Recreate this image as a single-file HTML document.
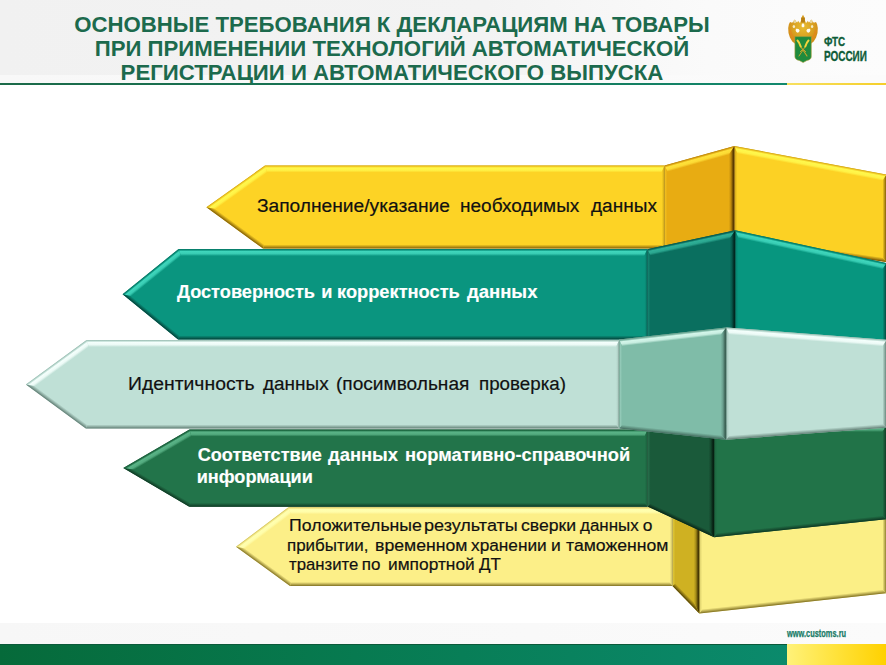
<!DOCTYPE html>
<html><head><meta charset="utf-8">
<style>
*{margin:0;padding:0;box-sizing:border-box}
html,body{width:886px;height:665px;overflow:hidden;background:#fff;font-family:"Liberation Sans",sans-serif}
#stage{position:relative;width:886px;height:665px;overflow:hidden;background:#fff}
#hdr{position:absolute;left:0;top:0;width:886px;height:83.5px;background:linear-gradient(90deg,#f1f1f1 0%,#f3f3f3 55%,#fafafa 80%,#fcfcfc 100%)}
#hdr2{position:absolute;left:0;top:74.5px;width:886px;height:8.5px;background:linear-gradient(90deg,#f8f8f8,#fbfbfb)}
#hline{position:absolute;left:0;top:83px;width:787px;height:2.4px;background:linear-gradient(90deg,#1b6a49 0%,#157a5c 70%,#12896e 100%)}
#hline2{position:absolute;left:787px;top:83px;width:99px;height:2.4px;background:linear-gradient(90deg,#f7e060,#f5cf2a)}
.title{position:absolute;left:0;width:784px;text-align:center;color:#1c6a4d;font-weight:bold;font-size:22.2px;line-height:24px;white-space:nowrap}
svg{position:absolute;left:0;top:0}
.w{position:absolute;white-space:nowrap;line-height:22px;transform-origin:0 50%}
#foot{position:absolute;left:0;top:644px;width:787px;height:21px;background:linear-gradient(90deg,#066a3a 0%,#077a50 45%,#0b8a6c 100%);border-top:1px solid #0b5a3a}
#foot2{position:absolute;left:787px;top:644px;width:99px;height:21px;background:linear-gradient(90deg,#fff27a 0%,#ffe23a 50%,#ffd100 100%)}
#gband{position:absolute;left:0;top:622.5px;width:886px;height:21.5px;background:linear-gradient(90deg,#f7f7f7 0%,#f9f9f9 60%,#fbfbfb 100%)}
.lg{position:absolute;color:#0e5c38;font-weight:bold;white-space:nowrap;transform-origin:0 0;-webkit-text-stroke:0.35px #0e5c38}
#url{position:absolute;left:786.8px;top:627.3px;transform:scaleX(0.7);color:#177a66;-webkit-text-stroke:0.25px #177a66;font-weight:bold;font-size:10.6px;line-height:12px;white-space:nowrap;transform-origin:0 0}
</style></head><body><div id="stage">
<div id="hdr"></div><div id="hdr2"></div>
<div class="title" style="top:13.1px">ОСНОВНЫЕ ТРЕБОВАНИЯ К ДЕКЛАРАЦИЯМ НА ТОВАРЫ</div>
<div class="title" style="top:37px">ПРИ ПРИМЕНЕНИИ ТЕХНОЛОГИЙ АВТОМАТИЧЕСКОЙ</div>
<div class="title" style="top:60.9px">РЕГИСТРАЦИИ И АВТОМАТИЧЕСКОГО ВЫПУСКА</div>
<div id="hline"></div><div id="hline2"></div>
<div id="gband"></div>
<div id="foot"></div><div id="foot2"></div>
<svg width="886" height="665" viewBox="0 0 886 665"><defs><linearGradient id="g1" gradientUnits="userSpaceOnUse" x1="810.45" y1="160.25" x2="809.16" y2="167.13"><stop offset="0.00" stop-color="#c39b17"/><stop offset="0.14" stop-color="#efc521"/><stop offset="0.34" stop-color="#fff84c"/><stop offset="0.68" stop-color="#fff246"/><stop offset="1.00" stop-color="#fcd124"/></linearGradient>
<linearGradient id="g2" gradientUnits="userSpaceOnUse" x1="886.50" y1="218.25" x2="882.50" y2="218.25"><stop offset="0.00" stop-color="#724f05"/><stop offset="0.45" stop-color="#b38c14"/><stop offset="1.00" stop-color="#fcd124"/></linearGradient>
<linearGradient id="g3" gradientUnits="userSpaceOnUse" x1="810.45" y1="251.00" x2="811.02" y2="247.04"><stop offset="0.00" stop-color="#724f05"/><stop offset="0.45" stop-color="#b38c14"/><stop offset="1.00" stop-color="#fcd124"/></linearGradient>
<linearGradient id="g4" gradientUnits="userSpaceOnUse" x1="734.40" y1="193.00" x2="737.40" y2="193.00"><stop offset="0.00" stop-color="#9b750e"/><stop offset="0.40" stop-color="#e4ba1f"/><stop offset="1.00" stop-color="#fcd124"/></linearGradient>
<linearGradient id="g5" gradientUnits="userSpaceOnUse" x1="699.45" y1="155.75" x2="701.33" y2="162.49"><stop offset="0.00" stop-color="#b1800c"/><stop offset="0.14" stop-color="#dba211"/><stop offset="0.34" stop-color="#ffe23a"/><stop offset="0.68" stop-color="#fcda34"/><stop offset="1.00" stop-color="#e8ac12"/></linearGradient>
<linearGradient id="g6" gradientUnits="userSpaceOnUse" x1="734.40" y1="193.00" x2="728.90" y2="193.00"><stop offset="0.00" stop-color="#4a2e00"/><stop offset="0.25" stop-color="#624103"/><stop offset="0.60" stop-color="#b9860d"/><stop offset="1.00" stop-color="#e8ac12"/></linearGradient>
<linearGradient id="g7" gradientUnits="userSpaceOnUse" x1="699.45" y1="245.00" x2="698.88" y2="241.04"><stop offset="0.00" stop-color="#624103"/><stop offset="0.45" stop-color="#a1730a"/><stop offset="1.00" stop-color="#e8ac12"/></linearGradient>
<linearGradient id="g8" gradientUnits="userSpaceOnUse" x1="664.50" y1="207.75" x2="667.50" y2="207.75"><stop offset="0.00" stop-color="#996d09"/><stop offset="0.30" stop-color="#efbc1e"/><stop offset="1.00" stop-color="#e8ac12"/></linearGradient>
<linearGradient id="g9" gradientUnits="userSpaceOnUse" x1="235.70" y1="186.35" x2="239.76" y2="192.05"><stop offset="0.00" stop-color="#caa218"/><stop offset="0.14" stop-color="#f1c822"/><stop offset="0.34" stop-color="#fff84c"/><stop offset="0.68" stop-color="#fff246"/><stop offset="1.00" stop-color="#fdd325"/></linearGradient>
<linearGradient id="g10" gradientUnits="userSpaceOnUse" x1="464.75" y1="165.50" x2="464.75" y2="172.50"><stop offset="0.00" stop-color="#caa218"/><stop offset="0.14" stop-color="#f1c822"/><stop offset="0.34" stop-color="#fff84c"/><stop offset="0.68" stop-color="#fff246"/><stop offset="1.00" stop-color="#fdd325"/></linearGradient>
<linearGradient id="g11" gradientUnits="userSpaceOnUse" x1="664.50" y1="207.00" x2="661.50" y2="207.00"><stop offset="0.00" stop-color="#a5800f"/><stop offset="0.40" stop-color="#e7be1f"/><stop offset="1.00" stop-color="#fdd325"/></linearGradient>
<linearGradient id="g12" gradientUnits="userSpaceOnUse" x1="463.75" y1="248.50" x2="463.75" y2="244.50"><stop offset="0.00" stop-color="#805d06"/><stop offset="0.45" stop-color="#bb9414"/><stop offset="1.00" stop-color="#fdd325"/></linearGradient>
<linearGradient id="g13" gradientUnits="userSpaceOnUse" x1="234.70" y1="227.85" x2="237.06" y2="224.62"><stop offset="0.00" stop-color="#805d06"/><stop offset="0.45" stop-color="#bb9414"/><stop offset="1.00" stop-color="#fdd325"/></linearGradient>
<linearGradient id="g14" gradientUnits="userSpaceOnUse" x1="792.90" y1="512.50" x2="793.46" y2="519.48"><stop offset="0.00" stop-color="#c8bb5d"/><stop offset="0.14" stop-color="#efe37d"/><stop offset="0.34" stop-color="#ffffc0"/><stop offset="0.68" stop-color="#fefdb7"/><stop offset="1.00" stop-color="#fbef86"/></linearGradient>
<linearGradient id="g15" gradientUnits="userSpaceOnUse" x1="886.50" y1="549.10" x2="882.50" y2="549.10"><stop offset="0.00" stop-color="#807022"/><stop offset="0.45" stop-color="#baac51"/><stop offset="1.00" stop-color="#fbef86"/></linearGradient>
<linearGradient id="g16" gradientUnits="userSpaceOnUse" x1="792.90" y1="603.30" x2="792.47" y2="599.32"><stop offset="0.00" stop-color="#807022"/><stop offset="0.45" stop-color="#baac51"/><stop offset="1.00" stop-color="#fbef86"/></linearGradient>
<linearGradient id="g17" gradientUnits="userSpaceOnUse" x1="699.30" y1="566.70" x2="702.30" y2="566.70"><stop offset="0.00" stop-color="#a4963f"/><stop offset="0.40" stop-color="#e5d974"/><stop offset="1.00" stop-color="#fbef86"/></linearGradient>
<linearGradient id="g18" gradientUnits="userSpaceOnUse" x1="685.90" y1="514.25" x2="683.14" y2="520.68"><stop offset="0.00" stop-color="#9b8216"/><stop offset="0.14" stop-color="#c3a61f"/><stop offset="0.34" stop-color="#f8e860"/><stop offset="0.68" stop-color="#f2e057"/><stop offset="1.00" stop-color="#cfb122"/></linearGradient>
<linearGradient id="g19" gradientUnits="userSpaceOnUse" x1="699.30" y1="566.70" x2="693.80" y2="566.70"><stop offset="0.00" stop-color="#3a2c00"/><stop offset="0.25" stop-color="#504005"/><stop offset="0.60" stop-color="#a28918"/><stop offset="1.00" stop-color="#cfb122"/></linearGradient>
<linearGradient id="g20" gradientUnits="userSpaceOnUse" x1="685.90" y1="599.70" x2="688.76" y2="596.90"><stop offset="0.00" stop-color="#504005"/><stop offset="0.45" stop-color="#8c7513"/><stop offset="1.00" stop-color="#cfb122"/></linearGradient>
<linearGradient id="g21" gradientUnits="userSpaceOnUse" x1="672.50" y1="547.25" x2="675.50" y2="547.25"><stop offset="0.00" stop-color="#846e11"/><stop offset="0.30" stop-color="#dbc235"/><stop offset="1.00" stop-color="#cfb122"/></linearGradient>
<linearGradient id="g22" gradientUnits="userSpaceOnUse" x1="262.25" y1="527.00" x2="266.47" y2="532.59"><stop offset="0.00" stop-color="#c9bb5e"/><stop offset="0.14" stop-color="#f0e37e"/><stop offset="0.34" stop-color="#ffffb0"/><stop offset="0.68" stop-color="#fffdaa"/><stop offset="1.00" stop-color="#fcef88"/></linearGradient>
<linearGradient id="g23" gradientUnits="userSpaceOnUse" x1="480.50" y1="507.20" x2="480.50" y2="514.20"><stop offset="0.00" stop-color="#c9bb5e"/><stop offset="0.14" stop-color="#f0e37e"/><stop offset="0.34" stop-color="#ffffb0"/><stop offset="0.68" stop-color="#fffdaa"/><stop offset="1.00" stop-color="#fcef88"/></linearGradient>
<linearGradient id="g24" gradientUnits="userSpaceOnUse" x1="672.50" y1="546.60" x2="669.50" y2="546.60"><stop offset="0.00" stop-color="#a49640"/><stop offset="0.40" stop-color="#e6d976"/><stop offset="1.00" stop-color="#fcef88"/></linearGradient>
<linearGradient id="g25" gradientUnits="userSpaceOnUse" x1="481.25" y1="586.00" x2="481.25" y2="582.00"><stop offset="0.00" stop-color="#807022"/><stop offset="0.45" stop-color="#baac52"/><stop offset="1.00" stop-color="#fcef88"/></linearGradient>
<linearGradient id="g26" gradientUnits="userSpaceOnUse" x1="263.00" y1="566.40" x2="265.35" y2="563.16"><stop offset="0.00" stop-color="#807022"/><stop offset="0.45" stop-color="#baac52"/><stop offset="1.00" stop-color="#fcef88"/></linearGradient>
<linearGradient id="g27" gradientUnits="userSpaceOnUse" x1="810.85" y1="246.65" x2="809.37" y2="253.49"><stop offset="0.00" stop-color="#057261"/><stop offset="0.14" stop-color="#078e78"/><stop offset="0.34" stop-color="#40d6bc"/><stop offset="0.68" stop-color="#37ccb3"/><stop offset="1.00" stop-color="#07967f"/></linearGradient>
<linearGradient id="g28" gradientUnits="userSpaceOnUse" x1="886.50" y1="304.00" x2="882.50" y2="304.00"><stop offset="0.00" stop-color="#033f37"/><stop offset="0.45" stop-color="#056859"/><stop offset="1.00" stop-color="#07967f"/></linearGradient>
<linearGradient id="g29" gradientUnits="userSpaceOnUse" x1="810.85" y1="342.50" x2="810.98" y2="338.50"><stop offset="0.00" stop-color="#033f37"/><stop offset="0.45" stop-color="#056859"/><stop offset="1.00" stop-color="#07967f"/></linearGradient>
<linearGradient id="g30" gradientUnits="userSpaceOnUse" x1="735.20" y1="285.15" x2="738.20" y2="285.15"><stop offset="0.00" stop-color="#04594c"/><stop offset="0.40" stop-color="#068772"/><stop offset="1.00" stop-color="#07967f"/></linearGradient>
<linearGradient id="g31" gradientUnits="userSpaceOnUse" x1="691.25" y1="239.75" x2="692.72" y2="246.59"><stop offset="0.00" stop-color="#075448"/><stop offset="0.14" stop-color="#09695a"/><stop offset="0.34" stop-color="#30b098"/><stop offset="0.68" stop-color="#2aa68f"/><stop offset="1.00" stop-color="#0a6f5f"/></linearGradient>
<linearGradient id="g32" gradientUnits="userSpaceOnUse" x1="735.20" y1="285.15" x2="729.70" y2="285.15"><stop offset="0.00" stop-color="#01221c"/><stop offset="0.25" stop-color="#022e26"/><stop offset="0.60" stop-color="#07584b"/><stop offset="1.00" stop-color="#0a6f5f"/></linearGradient>
<linearGradient id="g33" gradientUnits="userSpaceOnUse" x1="691.25" y1="340.00" x2="691.25" y2="336.00"><stop offset="0.00" stop-color="#022e26"/><stop offset="0.45" stop-color="#064c41"/><stop offset="1.00" stop-color="#0a6f5f"/></linearGradient>
<linearGradient id="g34" gradientUnits="userSpaceOnUse" x1="647.30" y1="294.60" x2="650.30" y2="294.60"><stop offset="0.00" stop-color="#06483e"/><stop offset="0.30" stop-color="#158270"/><stop offset="1.00" stop-color="#0a6f5f"/></linearGradient>
<linearGradient id="g35" gradientUnits="userSpaceOnUse" x1="150.60" y1="271.60" x2="155.00" y2="277.05"><stop offset="0.00" stop-color="#077261"/><stop offset="0.14" stop-color="#098d78"/><stop offset="0.34" stop-color="#40d6bc"/><stop offset="0.68" stop-color="#38ccb3"/><stop offset="1.00" stop-color="#0a957f"/></linearGradient>
<linearGradient id="g36" gradientUnits="userSpaceOnUse" x1="412.95" y1="249.00" x2="412.95" y2="256.00"><stop offset="0.00" stop-color="#077261"/><stop offset="0.14" stop-color="#098d78"/><stop offset="0.34" stop-color="#40d6bc"/><stop offset="0.68" stop-color="#38ccb3"/><stop offset="1.00" stop-color="#0a957f"/></linearGradient>
<linearGradient id="g37" gradientUnits="userSpaceOnUse" x1="647.30" y1="294.20" x2="644.30" y2="294.20"><stop offset="0.00" stop-color="#05584c"/><stop offset="0.40" stop-color="#098672"/><stop offset="1.00" stop-color="#0a957f"/></linearGradient>
<linearGradient id="g38" gradientUnits="userSpaceOnUse" x1="412.70" y1="339.40" x2="412.70" y2="335.40"><stop offset="0.00" stop-color="#033f37"/><stop offset="0.45" stop-color="#066859"/><stop offset="1.00" stop-color="#0a957f"/></linearGradient>
<linearGradient id="g39" gradientUnits="userSpaceOnUse" x1="150.35" y1="316.80" x2="152.88" y2="313.70"><stop offset="0.00" stop-color="#033f37"/><stop offset="0.45" stop-color="#066859"/><stop offset="1.00" stop-color="#0a957f"/></linearGradient>
<linearGradient id="g40" gradientUnits="userSpaceOnUse" x1="800.30" y1="425.00" x2="800.30" y2="432.00"><stop offset="0.00" stop-color="#195938"/><stop offset="0.14" stop-color="#1f6d44"/><stop offset="0.34" stop-color="#5ab487"/><stop offset="0.68" stop-color="#51aa7e"/><stop offset="1.00" stop-color="#217348"/></linearGradient>
<linearGradient id="g41" gradientUnits="userSpaceOnUse" x1="886.50" y1="472.10" x2="882.50" y2="472.10"><stop offset="0.00" stop-color="#0d3521"/><stop offset="0.45" stop-color="#175233"/><stop offset="1.00" stop-color="#217348"/></linearGradient>
<linearGradient id="g42" gradientUnits="userSpaceOnUse" x1="800.30" y1="528.25" x2="799.88" y2="524.27"><stop offset="0.00" stop-color="#0d3521"/><stop offset="0.45" stop-color="#175233"/><stop offset="1.00" stop-color="#217348"/></linearGradient>
<linearGradient id="g43" gradientUnits="userSpaceOnUse" x1="714.10" y1="481.15" x2="717.10" y2="481.15"><stop offset="0.00" stop-color="#13472c"/><stop offset="0.40" stop-color="#1e6841"/><stop offset="1.00" stop-color="#217348"/></linearGradient>
<linearGradient id="g44" gradientUnits="userSpaceOnUse" x1="680.85" y1="425.00" x2="680.85" y2="432.00"><stop offset="0.00" stop-color="#13442b"/><stop offset="0.14" stop-color="#185537"/><stop offset="0.34" stop-color="#3f9068"/><stop offset="0.68" stop-color="#398861"/><stop offset="1.00" stop-color="#1a5a3a"/></linearGradient>
<linearGradient id="g45" gradientUnits="userSpaceOnUse" x1="714.10" y1="481.15" x2="708.60" y2="481.15"><stop offset="0.00" stop-color="#061c10"/><stop offset="0.25" stop-color="#092516"/><stop offset="0.60" stop-color="#14472d"/><stop offset="1.00" stop-color="#1a5a3a"/></linearGradient>
<linearGradient id="g46" gradientUnits="userSpaceOnUse" x1="680.85" y1="521.90" x2="682.53" y2="518.27"><stop offset="0.00" stop-color="#092516"/><stop offset="0.45" stop-color="#113e27"/><stop offset="1.00" stop-color="#1a5a3a"/></linearGradient>
<linearGradient id="g47" gradientUnits="userSpaceOnUse" x1="647.60" y1="465.75" x2="650.60" y2="465.75"><stop offset="0.00" stop-color="#103b25"/><stop offset="0.30" stop-color="#256a48"/><stop offset="1.00" stop-color="#1a5a3a"/></linearGradient>
<linearGradient id="g48" gradientUnits="userSpaceOnUse" x1="156.40" y1="448.85" x2="159.92" y2="454.90"><stop offset="0.00" stop-color="#1a5a39"/><stop offset="0.14" stop-color="#206e46"/><stop offset="0.34" stop-color="#5ab487"/><stop offset="0.68" stop-color="#52aa7e"/><stop offset="1.00" stop-color="#22744a"/></linearGradient>
<linearGradient id="g49" gradientUnits="userSpaceOnUse" x1="418.55" y1="429.60" x2="418.55" y2="436.60"><stop offset="0.00" stop-color="#1a5a39"/><stop offset="0.14" stop-color="#206e46"/><stop offset="0.34" stop-color="#5ab487"/><stop offset="0.68" stop-color="#52aa7e"/><stop offset="1.00" stop-color="#22744a"/></linearGradient>
<linearGradient id="g50" gradientUnits="userSpaceOnUse" x1="647.60" y1="468.20" x2="644.60" y2="468.20"><stop offset="0.00" stop-color="#14482d"/><stop offset="0.40" stop-color="#1e6943"/><stop offset="1.00" stop-color="#22744a"/></linearGradient>
<linearGradient id="g51" gradientUnits="userSpaceOnUse" x1="418.45" y1="506.80" x2="418.45" y2="502.80"><stop offset="0.00" stop-color="#0e3521"/><stop offset="0.45" stop-color="#175334"/><stop offset="1.00" stop-color="#22744a"/></linearGradient>
<linearGradient id="g52" gradientUnits="userSpaceOnUse" x1="156.30" y1="487.45" x2="158.32" y2="484.00"><stop offset="0.00" stop-color="#0e3521"/><stop offset="0.45" stop-color="#175334"/><stop offset="1.00" stop-color="#22744a"/></linearGradient>
<linearGradient id="g53" gradientUnits="userSpaceOnUse" x1="806.35" y1="333.60" x2="805.81" y2="340.58"><stop offset="0.00" stop-color="#97b7ad"/><stop offset="0.14" stop-color="#b6d7cd"/><stop offset="0.34" stop-color="#f4fffc"/><stop offset="0.68" stop-color="#ecfaf6"/><stop offset="1.00" stop-color="#bfe0d6"/></linearGradient>
<linearGradient id="g54" gradientUnits="userSpaceOnUse" x1="886.50" y1="383.80" x2="882.50" y2="383.80"><stop offset="0.00" stop-color="#5f7c72"/><stop offset="0.45" stop-color="#8caba1"/><stop offset="1.00" stop-color="#bfe0d6"/></linearGradient>
<linearGradient id="g55" gradientUnits="userSpaceOnUse" x1="806.35" y1="433.75" x2="806.05" y2="429.76"><stop offset="0.00" stop-color="#5f7c72"/><stop offset="0.45" stop-color="#8caba1"/><stop offset="1.00" stop-color="#bfe0d6"/></linearGradient>
<linearGradient id="g56" gradientUnits="userSpaceOnUse" x1="726.20" y1="383.55" x2="729.20" y2="383.55"><stop offset="0.00" stop-color="#7b998f"/><stop offset="0.40" stop-color="#aecec4"/><stop offset="1.00" stop-color="#bfe0d6"/></linearGradient>
<linearGradient id="g57" gradientUnits="userSpaceOnUse" x1="672.65" y1="333.50" x2="673.44" y2="340.46"><stop offset="0.00" stop-color="#669a89"/><stop offset="0.14" stop-color="#79b4a1"/><stop offset="0.34" stop-color="#d4f6ea"/><stop offset="0.68" stop-color="#c7ede0"/><stop offset="1.00" stop-color="#7fbca8"/></linearGradient>
<linearGradient id="g58" gradientUnits="userSpaceOnUse" x1="726.20" y1="383.55" x2="720.70" y2="383.55"><stop offset="0.00" stop-color="#385c50"/><stop offset="0.25" stop-color="#436a5d"/><stop offset="0.60" stop-color="#6a9f8e"/><stop offset="1.00" stop-color="#7fbca8"/></linearGradient>
<linearGradient id="g59" gradientUnits="userSpaceOnUse" x1="672.65" y1="434.10" x2="673.07" y2="430.12"><stop offset="0.00" stop-color="#436a5d"/><stop offset="0.45" stop-color="#5f9180"/><stop offset="1.00" stop-color="#7fbca8"/></linearGradient>
<linearGradient id="g60" gradientUnits="userSpaceOnUse" x1="619.10" y1="384.05" x2="622.10" y2="384.05"><stop offset="0.00" stop-color="#5c8c7c"/><stop offset="0.30" stop-color="#98cdbc"/><stop offset="1.00" stop-color="#7fbca8"/></linearGradient>
<linearGradient id="g61" gradientUnits="userSpaceOnUse" x1="56.25" y1="362.20" x2="60.38" y2="367.85"><stop offset="0.00" stop-color="#97b7ad"/><stop offset="0.14" stop-color="#b6d7cd"/><stop offset="0.34" stop-color="#f4fffc"/><stop offset="0.68" stop-color="#ecfaf6"/><stop offset="1.00" stop-color="#bfe0d6"/></linearGradient>
<linearGradient id="g62" gradientUnits="userSpaceOnUse" x1="352.85" y1="340.00" x2="352.85" y2="347.00"><stop offset="0.00" stop-color="#97b7ad"/><stop offset="0.14" stop-color="#b6d7cd"/><stop offset="0.34" stop-color="#f4fffc"/><stop offset="0.68" stop-color="#ecfaf6"/><stop offset="1.00" stop-color="#bfe0d6"/></linearGradient>
<linearGradient id="g63" gradientUnits="userSpaceOnUse" x1="619.10" y1="384.25" x2="616.10" y2="384.25"><stop offset="0.00" stop-color="#7b998f"/><stop offset="0.40" stop-color="#aecec4"/><stop offset="1.00" stop-color="#bfe0d6"/></linearGradient>
<linearGradient id="g64" gradientUnits="userSpaceOnUse" x1="352.45" y1="428.50" x2="352.45" y2="424.50"><stop offset="0.00" stop-color="#5f7c72"/><stop offset="0.45" stop-color="#8caba1"/><stop offset="1.00" stop-color="#bfe0d6"/></linearGradient>
<linearGradient id="g65" gradientUnits="userSpaceOnUse" x1="55.85" y1="406.45" x2="58.22" y2="403.23"><stop offset="0.00" stop-color="#5f7c72"/><stop offset="0.45" stop-color="#8caba1"/><stop offset="1.00" stop-color="#bfe0d6"/></linearGradient></defs><g id="L1">
<polygon points="734.40,146.00 886.50,174.50 886.50,262.00 734.40,240.00" fill="#fcd124"/>
<polygon points="734.40,146.00 886.50,174.50 882.50,180.87 737.40,153.68" fill="url(#g1)"/>
<polygon points="886.50,174.50 886.50,262.00 882.50,257.38 882.50,180.87" fill="url(#g2)"/>
<polygon points="886.50,262.00 734.40,240.00 737.40,236.39 882.50,257.38" fill="url(#g3)"/>
<polygon points="734.40,240.00 734.40,146.00 737.40,153.68 737.40,236.39" fill="url(#g4)"/>
<polygon points="664.50,165.50 734.40,146.00 734.40,240.00 664.50,250.00" fill="#e8ac12"/>
<polygon points="664.50,165.50 734.40,146.00 728.90,154.80 667.50,171.93" fill="url(#g5)"/>
<polygon points="734.40,146.00 734.40,240.00 728.90,236.75 728.90,154.80" fill="url(#g6)"/>
<polygon points="734.40,240.00 664.50,250.00 667.50,245.53 728.90,236.75" fill="url(#g7)"/>
<polygon points="664.50,250.00 664.50,165.50 667.50,171.93 667.50,245.53" fill="url(#g8)"/>
<polygon points="206.40,207.20 265.00,165.50 664.50,165.50 664.50,248.50 263.00,248.50" fill="#fdd325"/>
<polygon points="206.40,207.20 265.00,165.50 267.24,172.50 215.80,209.10" fill="url(#g9)"/>
<polygon points="265.00,165.50 664.50,165.50 661.50,172.50 267.24,172.50" fill="url(#g10)"/>
<polygon points="664.50,165.50 664.50,248.50 661.50,244.50 661.50,172.50" fill="url(#g11)"/>
<polygon points="664.50,248.50 263.00,248.50 264.30,244.50 661.50,244.50" fill="url(#g12)"/>
<polygon points="263.00,248.50 206.40,207.20 215.80,209.10 264.30,244.50" fill="url(#g13)"/>
</g>
<g id="L5">
<polygon points="699.30,520.00 886.50,505.00 886.50,593.20 699.30,613.40" fill="#fbef86"/>
<polygon points="699.30,520.00 886.50,505.00 882.50,512.34 702.30,526.78" fill="url(#g14)"/>
<polygon points="886.50,505.00 886.50,593.20 882.50,589.61 882.50,512.34" fill="url(#g15)"/>
<polygon points="886.50,593.20 699.30,613.40 702.30,609.05 882.50,589.61" fill="url(#g16)"/>
<polygon points="699.30,613.40 699.30,520.00 702.30,526.78 702.30,609.05" fill="url(#g17)"/>
<polygon points="672.50,508.50 699.30,520.00 699.30,613.40 672.50,586.00" fill="#cfb122"/>
<polygon points="672.50,508.50 699.30,520.00 693.80,525.26 675.50,517.40" fill="url(#g18)"/>
<polygon points="699.30,520.00 699.30,613.40 693.80,602.06 693.80,525.26" fill="url(#g19)"/>
<polygon points="699.30,613.40 672.50,586.00 675.50,583.35 693.80,602.06" fill="url(#g20)"/>
<polygon points="672.50,586.00 672.50,508.50 675.50,517.40 675.50,583.35" fill="url(#g21)"/>
<polygon points="236.00,546.80 288.50,507.20 672.50,507.20 672.50,586.00 290.00,586.00" fill="#fcef88"/>
<polygon points="236.00,546.80 288.50,507.20 290.84,514.20 245.26,548.58" fill="url(#g22)"/>
<polygon points="288.50,507.20 672.50,507.20 669.50,514.20 290.84,514.20" fill="url(#g23)"/>
<polygon points="672.50,507.20 672.50,586.00 669.50,582.00 669.50,514.20" fill="url(#g24)"/>
<polygon points="672.50,586.00 290.00,586.00 291.30,582.00 669.50,582.00" fill="url(#g25)"/>
<polygon points="290.00,586.00 236.00,546.80 245.26,548.58 291.30,582.00" fill="url(#g26)"/>
</g>
<g id="L2">
<polygon points="735.20,230.30 886.50,263.00 886.50,345.00 735.20,340.00" fill="#07967f"/>
<polygon points="735.20,230.30 886.50,263.00 882.50,269.30 738.20,238.11" fill="url(#g27)"/>
<polygon points="886.50,263.00 886.50,345.00 882.50,340.87 882.50,269.30" fill="url(#g28)"/>
<polygon points="886.50,345.00 735.20,340.00 738.20,336.10 882.50,340.87" fill="url(#g29)"/>
<polygon points="735.20,340.00 735.20,230.30 738.20,238.11 738.20,336.10" fill="url(#g30)"/>
<polygon points="647.30,249.20 735.20,230.30 735.20,340.00 647.30,340.00" fill="#0a6f5f"/>
<polygon points="647.30,249.20 735.20,230.30 729.70,238.64 650.30,255.71" fill="url(#g31)"/>
<polygon points="735.20,230.30 735.20,340.00 729.70,336.00 729.70,238.64" fill="url(#g32)"/>
<polygon points="735.20,340.00 647.30,340.00 650.30,336.00 729.70,336.00" fill="url(#g33)"/>
<polygon points="647.30,340.00 647.30,249.20 650.30,255.71 650.30,336.00" fill="url(#g34)"/>
<polygon points="122.60,294.20 178.60,249.00 647.30,249.00 647.30,339.40 178.10,339.40" fill="#0a957f"/>
<polygon points="122.60,294.20 178.60,249.00 181.07,256.00 131.33,296.15" fill="url(#g35)"/>
<polygon points="178.60,249.00 647.30,249.00 644.30,256.00 181.07,256.00" fill="url(#g36)"/>
<polygon points="647.30,249.00 647.30,339.40 644.30,335.40 644.30,256.00" fill="url(#g37)"/>
<polygon points="647.30,339.40 178.10,339.40 179.52,335.40 644.30,335.40" fill="url(#g38)"/>
<polygon points="178.10,339.40 122.60,294.20 131.33,296.15 179.52,335.40" fill="url(#g39)"/>
</g>
<g id="L4">
<polygon points="714.10,425.00 886.50,425.00 886.50,519.20 714.10,537.30" fill="#217348"/>
<polygon points="714.10,425.00 886.50,425.00 882.50,432.00 717.10,432.00" fill="url(#g40)"/>
<polygon points="886.50,425.00 886.50,519.20 882.50,515.60 882.50,432.00" fill="url(#g41)"/>
<polygon points="886.50,519.20 714.10,537.30 717.10,532.96 882.50,515.60" fill="url(#g42)"/>
<polygon points="714.10,537.30 714.10,425.00 717.10,432.00 717.10,532.96" fill="url(#g43)"/>
<polygon points="647.60,425.00 714.10,425.00 714.10,537.30 647.60,506.50" fill="#1a5a3a"/>
<polygon points="647.60,425.00 714.10,425.00 708.60,432.00 650.60,432.00" fill="url(#g44)"/>
<polygon points="714.10,425.00 714.10,537.30 708.60,530.34 708.60,432.00" fill="url(#g45)"/>
<polygon points="714.10,537.30 647.60,506.50 650.60,503.48 708.60,530.34" fill="url(#g46)"/>
<polygon points="647.60,506.50 647.60,425.00 650.60,432.00 650.60,503.48" fill="url(#g47)"/>
<polygon points="123.30,468.10 189.50,429.60 647.60,429.60 647.60,506.80 189.30,506.80" fill="#22744a"/>
<polygon points="123.30,468.10 189.50,429.60 191.39,436.60 134.20,469.86" fill="url(#g48)"/>
<polygon points="189.50,429.60 647.60,429.60 644.60,436.60 191.39,436.60" fill="url(#g49)"/>
<polygon points="647.60,429.60 647.60,506.80 644.60,502.80 644.60,436.60" fill="url(#g50)"/>
<polygon points="647.60,506.80 189.30,506.80 190.39,502.80 644.60,502.80" fill="url(#g51)"/>
<polygon points="189.30,506.80 123.30,468.10 134.20,469.86 190.39,502.80" fill="url(#g52)"/>
</g>
<g id="L3">
<polygon points="726.20,327.40 886.50,339.80 886.50,427.80 726.20,439.70" fill="#bfe0d6"/>
<polygon points="726.20,327.40 886.50,339.80 882.50,346.51 729.20,334.65" fill="url(#g53)"/>
<polygon points="886.50,339.80 886.50,427.80 882.50,424.09 882.50,346.51" fill="url(#g54)"/>
<polygon points="886.50,427.80 726.20,439.70 729.20,435.47 882.50,424.09" fill="url(#g55)"/>
<polygon points="726.20,439.70 726.20,327.40 729.20,334.65 729.20,435.47" fill="url(#g56)"/>
<polygon points="619.10,339.60 726.20,327.40 726.20,439.70 619.10,428.50" fill="#7fbca8"/>
<polygon points="619.10,339.60 726.20,327.40 720.70,335.07 622.10,346.30" fill="url(#g57)"/>
<polygon points="726.20,327.40 726.20,439.70 720.70,435.10 720.70,335.07" fill="url(#g58)"/>
<polygon points="726.20,439.70 619.10,428.50 622.10,424.79 720.70,435.10" fill="url(#g59)"/>
<polygon points="619.10,428.50 619.10,339.60 622.10,346.30 622.10,424.79" fill="url(#g60)"/>
<polygon points="25.90,384.40 86.60,340.00 619.10,340.00 619.10,428.50 85.80,428.50" fill="#bfe0d6"/>
<polygon points="25.90,384.40 86.60,340.00 88.89,347.00 35.19,386.27" fill="url(#g61)"/>
<polygon points="86.60,340.00 619.10,340.00 616.10,347.00 88.89,347.00" fill="url(#g62)"/>
<polygon points="619.10,340.00 619.10,428.50 616.10,424.50 616.10,347.00" fill="url(#g63)"/>
<polygon points="619.10,428.50 85.80,428.50 87.11,424.50 616.10,424.50" fill="url(#g64)"/>
<polygon points="85.80,428.50 25.90,384.40 35.19,386.27 87.11,424.50" fill="url(#g65)"/>
</g></svg>
<span class="w" style="left:256.9px;top:195.0px;color:#111;font-size:19.2px;-webkit-text-stroke:0.2px #111">Заполнение/указание</span>
<span class="w" style="left:460.1px;top:195.0px;color:#111;font-size:19.2px;-webkit-text-stroke:0.2px #111;transform:scaleX(0.991)">необходимых</span>
<span class="w" style="left:590.5px;top:195.0px;color:#111;font-size:19.2px;-webkit-text-stroke:0.2px #111;transform:scaleX(0.992)">данных</span>
<span class="w" style="left:176.5px;top:280.8px;color:#fff;font-weight:bold;font-size:18.1px;-webkit-text-stroke:0.15px #fff;transform:scaleX(1.004)">Достоверность</span>
<span class="w" style="left:321.3px;top:280.8px;color:#fff;font-weight:bold;font-size:18.1px;-webkit-text-stroke:0.15px #fff">и</span>
<span class="w" style="left:337.3px;top:280.8px;color:#fff;font-weight:bold;font-size:18.1px;-webkit-text-stroke:0.15px #fff;transform:scaleX(1.009)">корректность</span>
<span class="w" style="left:466.5px;top:280.8px;color:#fff;font-weight:bold;font-size:18.1px;-webkit-text-stroke:0.15px #fff;transform:scaleX(1.022)">данных</span>
<span class="w" style="left:127.7px;top:372.6px;color:#111;font-size:19.2px;-webkit-text-stroke:0.2px #111;transform:scaleX(1.009)">Идентичность</span>
<span class="w" style="left:262.5px;top:372.6px;color:#111;font-size:19.2px;-webkit-text-stroke:0.2px #111;transform:scaleX(0.988)">данных</span>
<span class="w" style="left:335.9px;top:372.6px;color:#111;font-size:19.2px;-webkit-text-stroke:0.2px #111;transform:scaleX(0.995)">(посимвольная</span>
<span class="w" style="left:478.9px;top:372.6px;color:#111;font-size:19.2px;-webkit-text-stroke:0.2px #111;transform:scaleX(0.979)">проверка)</span>
<span class="w" style="left:197.7px;top:443.5px;color:#fff;font-weight:bold;font-size:18.1px;-webkit-text-stroke:0.15px #fff">Соответствие</span>
<span class="w" style="left:327.9px;top:443.5px;color:#fff;font-weight:bold;font-size:18.1px;-webkit-text-stroke:0.15px #fff;transform:scaleX(1.016)">данных</span>
<span class="w" style="left:404.5px;top:443.5px;color:#fff;font-weight:bold;font-size:18.1px;-webkit-text-stroke:0.15px #fff;transform:scaleX(1.013)">нормативно-справочной</span>
<span class="w" style="left:196.7px;top:465.5px;color:#fff;font-weight:bold;font-size:18.1px;-webkit-text-stroke:0.15px #fff">информации</span>
<span class="w" style="left:288.5px;top:514.2px;color:#111;font-size:17.4px;-webkit-text-stroke:0.2px #111;transform:scaleX(1.016)">Положительные</span>
<span class="w" style="left:423.5px;top:514.2px;color:#111;font-size:17.4px;-webkit-text-stroke:0.2px #111;transform:scaleX(1.037)">результаты</span>
<span class="w" style="left:521.1px;top:514.2px;color:#111;font-size:17.4px;-webkit-text-stroke:0.2px #111;transform:scaleX(1.013)">сверки</span>
<span class="w" style="left:579.5px;top:514.2px;color:#111;font-size:17.4px;-webkit-text-stroke:0.2px #111;transform:scaleX(0.975)">данных</span>
<span class="w" style="left:642.7px;top:514.2px;color:#111;font-size:17.4px;-webkit-text-stroke:0.2px #111">о</span>
<span class="w" style="left:287.3px;top:534.3px;color:#111;font-size:17.4px;-webkit-text-stroke:0.2px #111;transform:scaleX(0.975)">прибытии,</span>
<span class="w" style="left:375.3px;top:534.3px;color:#111;font-size:17.4px;-webkit-text-stroke:0.2px #111;transform:scaleX(1.015)">временном</span>
<span class="w" style="left:470.5px;top:534.3px;color:#111;font-size:17.4px;-webkit-text-stroke:0.2px #111;transform:scaleX(0.992)">хранении</span>
<span class="w" style="left:550.9px;top:534.3px;color:#111;font-size:17.4px;-webkit-text-stroke:0.2px #111">и</span>
<span class="w" style="left:565.7px;top:534.3px;color:#111;font-size:17.4px;-webkit-text-stroke:0.2px #111;transform:scaleX(1.014)">таможенном</span>
<span class="w" style="left:288.9px;top:554.1px;color:#111;font-size:17px;-webkit-text-stroke:0.2px #111;transform:scaleX(0.984)">транзите</span>
<span class="w" style="left:361.7px;top:554.1px;color:#111;font-size:17px;-webkit-text-stroke:0.2px #111">по</span>
<span class="w" style="left:387.9px;top:554.1px;color:#111;font-size:17px;-webkit-text-stroke:0.2px #111;transform:scaleX(1.020)">импортной</span>
<span class="w" style="left:478.9px;top:554.1px;color:#111;font-size:17px;-webkit-text-stroke:0.2px #111">ДТ</span>
<svg id="logo" width="40" height="52" viewBox="782.5 12 40 52" style="position:absolute;left:782.5px;top:12px">
<defs><radialGradient id="eg" cx="802.5" cy="27" r="15" gradientUnits="userSpaceOnUse"><stop offset="0" stop-color="#e8bc30"/><stop offset="0.6" stop-color="#dba524"/><stop offset="1" stop-color="#d2901a"/></radialGradient></defs>
<path d="M802.5,14.8 L801.4,16.8 L800.8,19.5 L799.8,22.5 L798.6,22.6 L797.8,20.8 L796.6,22.6 L795.4,21.4 L794.3,19.6 L793.0,21.2 L791.6,22.8 L789.5,21.9 L788.4,24.2 L787.7,28.0 L788.0,33.0 L789.4,37.6 L791.8,41.4 L795.2,44.2 L798.5,41.0 L802.5,41.0 L806.5,41.0 L809.8,44.2 L813.2,41.4 L815.6,37.6 L817.0,33.0 L817.3,28.0 L816.6,24.2 L815.5,21.9 L813.4,22.8 L812.0,21.2 L810.7,19.6 L809.6,21.4 L808.4,22.6 L807.2,20.8 L806.4,22.6 L805.2,22.5 L804.2,19.5 L803.6,16.8 L802.5,14.8 Z" fill="url(#eg)"/>
<path d="M800.6,17.5 L804.4,17.5 L804.4,22.5 L800.6,22.5 Z" fill="#b87f12"/>
<ellipse cx="794.3" cy="21.5" rx="1.5" ry="1.8" fill="#e8d49a"/>
<ellipse cx="810.7" cy="21.5" rx="1.5" ry="1.8" fill="#e8d49a"/>
<path d="M789.5,30 Q790.5,36 794,40" stroke="#e08a1c" stroke-width="1.8" fill="none"/>
<path d="M815.5,30 Q814.5,36 811,40" stroke="#e08a1c" stroke-width="1.8" fill="none"/>
<path d="M802.5,22.9 Q804.3,24.3 803.9,26.6 L802.5,27.6 L801.1,26.6 Q800.7,24.3 802.5,22.9 Z" fill="#fdfdf8"/>
<path d="M795.4,28.8 Q798.2,28.4 799.1,30.2 Q799,32.6 797.2,32.7 Q795.4,32.2 795.2,30.4 Z" fill="#fdfdf8"/>
<path d="M809.6,28.8 Q806.8,28.4 805.9,30.2 Q806,32.6 807.8,32.7 Q809.6,32.2 809.8,30.4 Z" fill="#fdfdf8"/>
<ellipse cx="793.4" cy="26.4" rx="1.2" ry="1.5" fill="#f6ecc4"/>
<ellipse cx="811.6" cy="26.4" rx="1.2" ry="1.5" fill="#f6ecc4"/>
<path d="M794.4,36.6 L810.8,36.6 L810.8,56.5 Q810.8,59.8 806.5,60.4 L802.6,62.6 L798.7,60.4 Q794.4,59.8 794.4,56.5 Z" fill="#1f8b3d" stroke="#b0a040" stroke-width="0.6"/>
<path d="M798.5,44 L806.5,56" stroke="#c9a52a" stroke-width="1.1" stroke-linecap="round"/>
<path d="M806.5,44 L798.5,56" stroke="#c9a52a" stroke-width="1.0" stroke-linecap="round"/>
<path d="M797,40.5 Q799,42.5 800.2,46.5" stroke="#f2d43c" stroke-width="2" fill="none" stroke-linecap="round"/>
<path d="M808,40.5 Q806,42.5 804.8,46.5" stroke="#f2d43c" stroke-width="2" fill="none" stroke-linecap="round"/>
<path d="M799.5,52 L801.5,50 M805.5,52 L803.5,50" stroke="#d8b030" stroke-width="0.8"/>
</svg>
<div class="lg" style="left:824.2px;top:34.9px;font-size:13px;line-height:13px;transform:scaleX(0.76)">ФТС</div>
<div class="lg" style="left:824.2px;top:48.7px;font-size:14.4px;line-height:14px;transform:scaleX(0.69)">РОССИИ</div>
<div id="url">www.customs.ru</div>
</div></body></html>
